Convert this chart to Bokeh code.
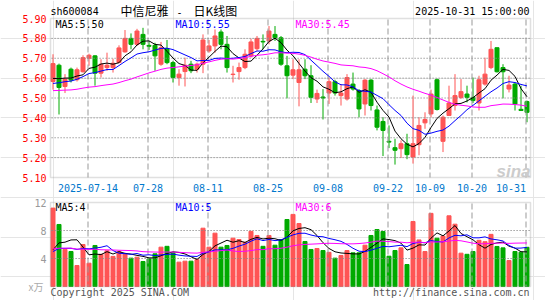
import numpy as np
from bokeh.plotting import figure
from bokeh.models import Range1d, Label, BoxAnnotation
from bokeh.core.properties import value
from bokeh.embed import file_html
from bokeh.resources import INLINE

# ---------------- data ----------------
# 80 trading days, 2025-07-04 .. 2025-10-31
open_ = [5.583, 5.665, 5.558, 5.645, 5.592, 5.632, 5.70, 5.712, 5.625, 5.653, 5.653, 5.678, 5.732, 5.80,
         5.77, 5.82, 5.765, 5.765, 5.67, 5.748, 5.678, 5.603, 5.633, 5.67, 5.645, 5.67, 5.737, 5.762,
         5.832, 5.77, 5.618, 5.633, 5.653, 5.712, 5.748, 5.785, 5.787, 5.82, 5.803, 5.662, 5.615, 5.578,
         5.645, 5.612, 5.495, 5.505, 5.525, 5.582, 5.512, 5.495, 5.57, 5.537, 5.47, 5.59, 5.44, 5.382,
         5.282, 5.25, 5.245, 5.27, 5.203, 5.265, 5.375, 5.42, 5.592, 5.282, 5.412, 5.462, 5.503, 5.52,
         5.503, 5.475, 5.57, 5.653, 5.753, 5.653, 5.545, 5.57, 5.443, 5.482]
high = [5.72, 5.673, 5.62, 5.653, 5.653, 5.715, 5.723, 5.715, 5.695, 5.728, 5.698, 5.765, 5.842, 5.825,
        5.848, 5.853, 5.787, 5.778, 5.782, 5.792, 5.687, 5.645, 5.703, 5.687, 5.678, 5.82, 5.792, 5.845,
        5.845, 5.812, 5.662, 5.678, 5.745, 5.798, 5.812, 5.82, 5.862, 5.862, 5.812, 5.712, 5.695, 5.695,
        5.695, 5.665, 5.542, 5.545, 5.603, 5.592, 5.57, 5.62, 5.628, 5.545, 5.595, 5.595, 5.462, 5.403,
        5.362, 5.295, 5.287, 5.32, 5.512, 5.403, 5.428, 5.542, 5.598, 5.412, 5.562, 5.62, 5.595, 5.562,
        5.603, 5.612, 5.703, 5.787, 5.753, 5.67, 5.612, 5.578, 5.562, 5.487]
low = [5.542, 5.417, 5.525, 5.578, 5.583, 5.628, 5.662, 5.562, 5.603, 5.637, 5.628, 5.678, 5.728, 5.745,
       5.762, 5.745, 5.742, 5.637, 5.662, 5.67, 5.578, 5.562, 5.558, 5.625, 5.628, 5.625, 5.728, 5.728,
       5.745, 5.628, 5.578, 5.592, 5.645, 5.703, 5.737, 5.745, 5.77, 5.787, 5.662, 5.498, 5.595, 5.458,
       5.595, 5.475, 5.475, 5.392, 5.47, 5.512, 5.462, 5.487, 5.537, 5.403, 5.412, 5.437, 5.337, 5.208,
       5.248, 5.165, 5.198, 5.192, 5.17, 5.212, 5.345, 5.403, 5.437, 5.228, 5.41, 5.437, 5.495, 5.478,
       5.475, 5.437, 5.562, 5.645, 5.628, 5.498, 5.528, 5.437, 5.437, 5.378]
close_ = [5.673, 5.553, 5.595, 5.59, 5.642, 5.703, 5.715, 5.625, 5.67, 5.665, 5.675, 5.752, 5.80, 5.77,
          5.837, 5.77, 5.76, 5.712, 5.753, 5.678, 5.603, 5.62, 5.665, 5.637, 5.67, 5.792, 5.762, 5.812,
          5.77, 5.653, 5.62, 5.653, 5.72, 5.782, 5.80, 5.782, 5.837, 5.803, 5.67, 5.612, 5.642, 5.642,
          5.612, 5.503, 5.523, 5.50, 5.582, 5.525, 5.525, 5.603, 5.545, 5.445, 5.59, 5.462, 5.353, 5.337,
          5.278, 5.237, 5.27, 5.215, 5.27, 5.362, 5.392, 5.52, 5.442, 5.403, 5.475, 5.512, 5.532, 5.503,
          5.487, 5.592, 5.62, 5.745, 5.632, 5.632, 5.565, 5.47, 5.437, 5.428]
volume = [11.2, 8.86, 5.3, 5.0, 3.0, 6.0, 3.33, 5.86, 4.6, 5.1, 4.3, 5.0, 4.7, 4.05,
          4.19, 3.57, 3.95, 4.67, 5.62, 5.74, 4.8, 3.48, 3.62, 3.62, 3.84, 8.33, 5.62, 7.62,
          5.62, 5.86, 6.9, 6.71, 6.33, 7.88, 7.29, 5.74, 7.29, 5.9, 6.7, 9.57, 10.3, 9.0,
          6.43, 5.29, 5.43, 5.14, 4.88, 4.05, 4.43, 5.14, 4.81, 4.81, 5.9, 7.29, 8.14, 7.86,
          4.33, 5.14, 5.52, 3.14, 9.29, 6.65, 5.0, 10.45, 6.9, 7.2, 10.1, 8.9, 4.76, 4.6,
          5.0, 6.6, 6.4, 7.45, 5.72, 5.52, 3.71, 5.0, 4.9, 5.6]
# history before the window (estimated from where the MA lines start)
prior_close = [5.52, 5.55, 5.56, 5.54, 5.53, 5.57, 5.55, 5.52, 5.54, 5.56, 5.53, 5.52, 5.53,
               5.50, 5.47, 5.45, 5.46, 5.48, 5.49, 5.51,
               5.52, 5.54, 5.56, 5.55, 5.57,
               5.56, 5.58, 5.59, 5.59]
prior_volume = [6.2, 5.1, 4.8, 7.3, 5.9, 4.6, 5.2, 6.8, 5.5, 4.9, 6.1, 5.4, 4.7, 5.8, 6.6, 5.0, 5.3, 6.0, 5.2, 5.0,
                4.5, 5.2, 4.9, 4.6, 4.6,
                3.9, 4.8, 3.4, 2.9]

price_ticks = [5.10, 5.20, 5.30, 5.40, 5.50, 5.60, 5.70, 5.80, 5.90]
vol_ticks = [0, 4, 8, 12]
vol_tick_labels = ["x万", "4", "8", "12"]
date_pos = [6, 16, 26, 36, 46, 56, 63, 70, 79]
date_labels = ["2025-07-14", "07-28", "08-11", "08-25", "09-08", "09-22", "10-09", "10-20", "10-31"]
legend_price = ["MA5:5.50", "MA10:5.55", "MA30:5.45"]
legend_vol = ["MA5:4", "MA10:5", "MA30:6"]
ma_windows = [5, 10, 30]

# ---------------- styling / layout ----------------
RED = "#ff5555"
GREEN = "#00aa00"
MA_COLORS = ["#000000", "#0000ff", "#ff00ff"]
MONO = "DejaVu Sans Mono"
CJK = "Noto Sans CJK SC"
W, H = 545, 300
STEP = 6.0            # px per candle
X0 = 52.5             # page px of first candle centre
P_TOP, P_BOT = 18, 177      # price panel frame (page px)
V_TOP, V_BOT = 202, 286     # volume panel frame (page px)
F_L, F_R = 50, 530          # frame left/right (page px)

n = len(close_)
idx = np.arange(n)

pmin, pmax = price_ticks[0], price_ticks[-1]
kp = (pmax - pmin) / (P_BOT - P_TOP)
vmax = vol_ticks[-1]
kv = vmax / (V_BOT - V_TOP)


def x_at(px):
    return (px - X0) / STEP


def price_at(py):
    return pmax - (py - P_TOP) * kp


def vol_at(py):
    return vmax - (py - V_TOP) * kv


def moving_avg(prior, series, w):
    full = np.array(list(prior) + list(series), dtype=float)
    off = len(prior)
    return [float(full[off + i - w + 1: off + i + 1].mean()) for i in range(len(series))]


colors = [RED if c >= o else GREEN for o, c in zip(open_, close_)]
body_top = [max(o, c) for o, c in zip(open_, close_)]
body_bot = [min(o, c) for o, c in zip(open_, close_)]
grid_x = [d - 1.0 / STEP for d in date_pos]
f_left, f_right = x_at(F_L), x_at(F_R)

p = figure(width=W, height=H,
           x_range=Range1d(x_at(0), x_at(W)),
           y_range=Range1d(price_at(H), price_at(0)),
           output_backend="svg", toolbar_location=None,
           x_axis_location=None, y_axis_location=None,
           min_border=0, outline_line_color=None,
           background_fill_color="white", border_fill_color="white")
p.extra_y_ranges = {"vol": Range1d(vol_at(H), vol_at(0))}

# ---- candles ----
p.segment(x0=idx, y0=low, x1=idx, y1=high, line_color=colors, line_width=1)
p.vbar(x=idx, width=0.667, top=body_top, bottom=body_bot, fill_color=colors, line_color=colors, line_width=1)

# ---- volume bars ----
p.vbar(x=idx, width=0.667, top=volume, bottom=0, fill_color=colors, line_color=colors, line_width=1,
       y_range_name="vol")


# ---- grid lines, built from short pieces (dotted / dashed look) ----
def hdots(ticks, rng):
    xs0, xs1, ys = [], [], []
    for t in ticks:
        for px in np.arange(F_L + 1, F_R - 1, 3.0):
            xs0.append(x_at(px)); xs1.append(x_at(px + 1.2)); ys.append(t)
    kw = {} if rng is None else {"y_range_name": rng}
    p.segment(x0=xs0, x1=xs1, y0=ys, y1=ys, line_color="#888888", line_width=1, **kw)


def vdashes(top_px, bot_px, conv, rng):
    xs, y0s, y1s = [], [], []
    for gx in grid_x:
        for py in np.arange(top_px + 1, bot_px - 1, 9.0):
            xs.append(gx); y0s.append(conv(py)); y1s.append(conv(min(py + 6, bot_px)))
    kw = {} if rng is None else {"y_range_name": rng}
    p.segment(x0=xs, x1=xs, y0=y0s, y1=y1s, line_color="#999999", line_width=1, **kw)


hdots(price_ticks[1:-1], None)
hdots(vol_ticks[1:-1], "vol")
vdashes(P_TOP, P_BOT, price_at, None)
vdashes(V_TOP, V_BOT, vol_at, "vol")

# ---- moving averages ----
for w, col in zip(ma_windows, MA_COLORS):
    p.line(idx, moving_avg(prior_close, close_, w), line_color=col, line_width=1)
for w, col in zip(ma_windows, MA_COLORS):
    p.line(idx, moving_avg(prior_volume, volume, w), line_color=col, line_width=1, y_range_name="vol")

# ---- panel frames ----
p.add_layout(BoxAnnotation(left=f_left, right=f_right, bottom=pmin, top=pmax, fill_color=None,
                           line_color="#999999", line_width=1.5, level="overlay"))
p.add_layout(BoxAnnotation(left=f_left, right=f_right, bottom=0, top=vmax, fill_color=None,
                           line_color="#999999", line_width=1.5, level="overlay", y_range_name="vol"))

# ---- axis tick labels ----
lab_x = x_at(46)
p.text(x=[lab_x] * len(price_ticks), y=price_ticks, text=[f"{t:.2f}" for t in price_ticks],
       text_color="#ff0000", text_font=value(MONO), text_font_size=value("10px"),
       text_align=value("right"), text_baseline=value("middle"))
p.text(x=[lab_x] * 3, y=vol_ticks[1:], text=vol_tick_labels[1:], y_range_name="vol",
       text_color="#999999", text_font=value(MONO), text_font_size=value("10px"),
       text_align=value("right"), text_baseline=value("middle"))
p.text(x=[x_at(35.5)], y=vol_ticks[:1], text=vol_tick_labels[:1], y_range_name="vol",
       text_color="#aaaaaa", text_font=value(CJK), text_font_size=value("10px"),
       text_align=value("center"), text_baseline=value("middle"))
date_y = price_at(187)
p.text(x=grid_x[:-1], y=[date_y] * (len(grid_x) - 1), text=date_labels[:-1],
       text_color="#0077cc", text_font=value(MONO), text_font_size=value("10px"),
       text_align=value("center"), text_baseline=value("middle"))
p.text(x=grid_x[-1:], y=[date_y], text=date_labels[-1:],
       text_color="#0077cc", text_font=value(MONO), text_font_size=value("10px"),
       text_align=value("right"), text_baseline=value("middle"))


# ---- other texts (page px positions) ----
def txt(px, py, text, color, size="10px", font=MONO, align="left", baseline="middle", style="normal"):
    p.add_layout(Label(x=px, y=H - py, x_units="screen", y_units="screen", text=text, text_color=color,
                       text_font_size=size, text_font=font, text_align=align,
                       text_baseline=baseline, text_font_style=style))


txt(50, 11, "sh600084", "#000000")
txt(120, 10, "中信尼雅", "#000000", size="12px", font=CJK)
txt(179, 11, "-", "#000000", align="center")
txt(193, 10, "日K线图", "#000000", size="12px", font=CJK)
txt(529, 11, "2025-10-31 15:00:00", "#000000", align="right")
for k, (s, col) in enumerate(zip(legend_price, MA_COLORS)):
    txt(55 + 120 * k, 24, s, col)
for k, (s, col) in enumerate(zip(legend_vol, MA_COLORS)):
    txt(55 + 120 * k, 206.5, s, col)
txt(530, 171, "sina", "#cccccc", size="17px", font="Liberation Sans", align="right",
    baseline="alphabetic", style="bold italic")
txt(50, 292, "Copyright 2025 SINA.COM", "#555555")
txt(529, 292, "http://finance.sina.com.cn", "#555555", align="right")

open("out.html", "w").write(file_html(p, INLINE))
